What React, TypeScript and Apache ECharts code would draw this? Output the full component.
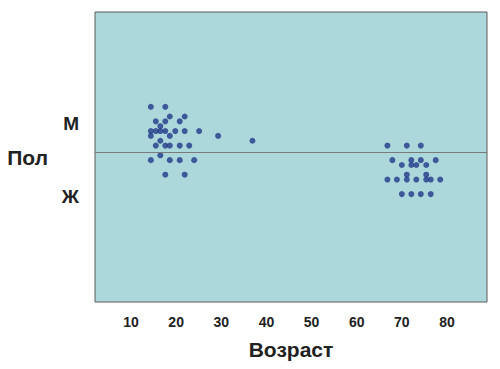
import React, { useEffect, useRef } from "react";
import * as echarts from "echarts";

// Age (years) and vertical jitter row for each point
const youngAges = [14.4, 17.6, 18.6, 21.9, 15.5, 17.6, 20.8, 16.5, 14.4, 15.5, 16.5, 17.6, 19.8, 21.9, 25.1, 14.4, 18.6, 29.3, 16.5, 36.9, 15.5, 17.6, 18.6, 20.8, 22.9, 16.5, 14.4, 18.6, 20.8, 24.0, 17.6, 21.9];
const youngRows = [10, 10, 8, 8, 7, 7, 7, 6, 5, 5, 5, 5, 5, 5, 5, 4, 4, 4, 3, 3, 2, 2, 2, 2, 2, 0, -1, -1, -1, -1, -4, -4];
const oldAges = [66.8, 71.1, 74.2, 67.9, 72.1, 74.2, 77.5, 70.0, 72.1, 73.2, 75.4, 71.1, 75.4, 66.8, 68.9, 71.1, 73.2, 75.4, 76.4, 78.5, 70.0, 72.1, 74.2, 76.4];
const oldRows = [2, 2, 2, -1, -1, -1, -1, -2, -2, -2, -2, -4, -4, -5, -5, -5, -5, -5, -5, -5, -8, -8, -8, -8];

const xTicks = [10, 20, 30, 40, 50, 60, 70, 80];
const sexLabels = ["М", "Ж"];
const sexLabelPos = [6.6, -8.4];
const dividerY = 0.6;

export default function App() {
  const ref = useRef<HTMLDivElement>(null);
  useEffect(() => {
    document.body.style.margin = "0";
    if (!ref.current) return;
    const chart = echarts.init(ref.current, undefined, { renderer: "svg" });
    const font = "'Liberation Sans', Arial, sans-serif";
    const data = [
      ...youngAges.map((a, i) => [a, youngRows[i]]),
      ...oldAges.map((a, i) => [a, oldRows[i]]),
    ];
    chart.setOption({
      animation: false,
      grid: {
        left: 95,
        top: 12,
        width: 392,
        height: 290,
        show: true,
        backgroundColor: "#acd8dc",
        borderColor: "#5a5a5a",
        borderWidth: 1,
      },
      xAxis: {
        type: "value",
        min: 2.03,
        max: 88.86,
        name: "Возраст",
        nameLocation: "middle",
        nameGap: 37,
        nameTextStyle: { fontFamily: font, fontWeight: "bold", fontSize: 21, color: "#222" },
        axisLine: { show: false },
        axisTick: { show: false },
        splitLine: { show: false },
        axisLabel: {
          customValues: xTicks,
          margin: 13,
          fontFamily: font,
          fontWeight: "bold",
          fontSize: 14,
          color: "#222",
        },
      },
      yAxis: {
        type: "value",
        min: -30.25,
        max: 29.55,
        name: "Пол",
        nameLocation: "middle",
        nameRotate: 0,
        nameGap: 47,
        nameTextStyle: { fontFamily: font, fontWeight: "bold", fontSize: 21, color: "#222" },
        axisLine: { show: false },
        axisTick: { show: false },
        splitLine: { show: false },
        axisLabel: {
          customValues: sexLabelPos,
          formatter: (v: number) => (v > 0 ? sexLabels[0] : sexLabels[1]),
          margin: 16,
          fontFamily: font,
          fontWeight: "bold",
          fontSize: 19,
          color: "#222",
        },
      },
      series: [
        {
          type: "scatter",
          data,
          symbolSize: 6,
          itemStyle: { color: "#23398a" },
          markLine: {
            silent: true,
            symbol: "none",
            label: { show: false },
            lineStyle: { color: "#7a7a7a", width: 1, type: "solid" },
            data: [{ yAxis: dividerY }],
          },
        },
      ],
    });
    return () => chart.dispose();
  }, []);
  return <div ref={ref} style={{ width: 500, height: 369 }} />;
}
